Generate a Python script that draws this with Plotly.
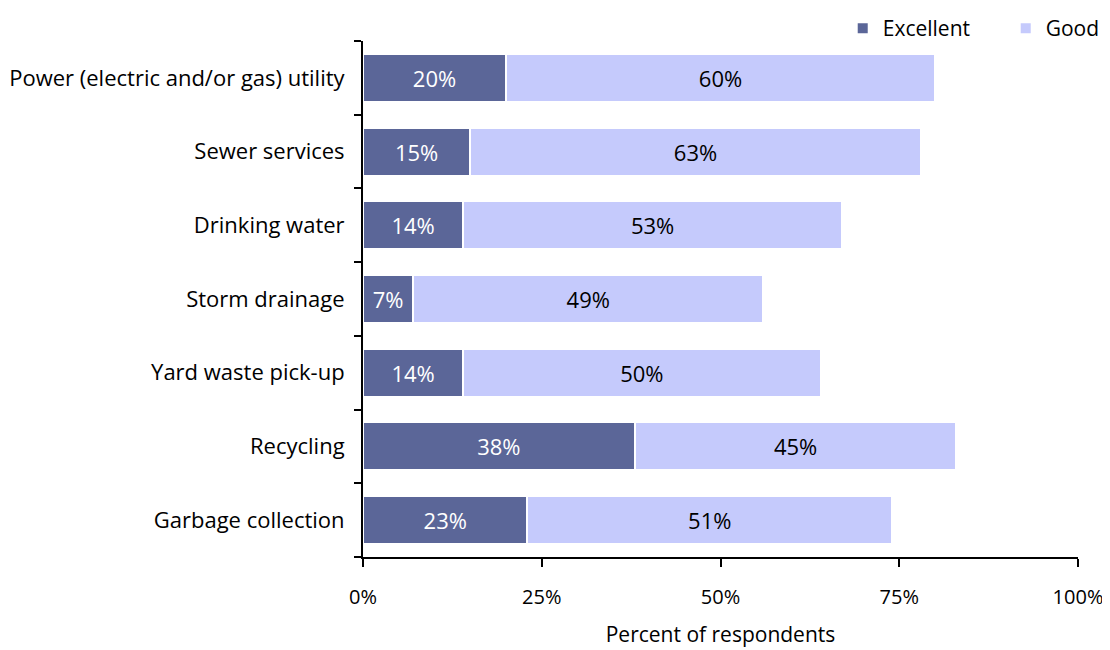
import plotly.graph_objects as go

categories = ["Power (electric and/or gas) utility", "Sewer services", "Drinking water",
              "Storm drainage", "Yard waste pick-up", "Recycling", "Garbage collection"]
excellent = [20, 15, 14, 7, 14, 38, 23]
good = [60, 63, 53, 49, 50, 45, 51]
x_ticks = [0, 25, 50, 75, 100]

FONT = "Open Sans"
fig = go.Figure()
fig.add_trace(go.Bar(
    y=categories, x=excellent, orientation="h", name="Excellent",
    marker=dict(color="#5B6698", line=dict(color="white", width=2)),
    text=[f"{v}%" for v in excellent], textposition="inside", insidetextanchor="middle",
    textfont=dict(color="white", size=22, family=FONT), width=0.65,
    hoverinfo="x+y"))
fig.add_trace(go.Bar(
    y=categories, x=good, orientation="h", name="Good",
    marker=dict(color="#C5CAFC", line=dict(color="white", width=2)),
    text=[f"{v}%" for v in good], textposition="inside", insidetextanchor="middle",
    textfont=dict(color="black", size=22, family=FONT), width=0.65,
    hoverinfo="x+y"))

fig.update_layout(
    barmode="stack",
    width=1110, height=650,
    margin=dict(l=355, r=40, t=33, b=101, autoexpand=False),
    paper_bgcolor="white", plot_bgcolor="white",
    font=dict(family=FONT, size=21, color="black"),
    uniformtext=dict(minsize=10, mode="show"),
    legend=dict(orientation="h", xref="container", yref="container",
                x=0.752, xanchor="left", y=1.0, yanchor="top",
                entrywidth=118, entrywidthmode="pixels", tracegroupgap=0,
                font=dict(size=21, family=FONT), traceorder="normal"),
    showlegend=True,
)
fig.update_xaxes(range=[0, 100], tickvals=x_ticks, ticktext=[f"{v}%" for v in x_ticks],
                 automargin=False,
                 showgrid=False, zeroline=False, showline=True, linecolor="black", linewidth=2,
                 ticks="outside", ticklen=8, tickwidth=2, tickcolor="black",
                 tickfont=dict(size=20), ticklabelstandoff=13,
                 title=dict(text="Percent of respondents", font=dict(size=21), standoff=18))
fig.update_yaxes(categoryorder="array", categoryarray=categories[::-1], automargin=False,
                 showgrid=False, showline=True, linecolor="black", linewidth=2,
                 ticks="outside", tickson="boundaries", ticklen=7, tickwidth=2, tickcolor="black",
                 tickfont=dict(size=22), ticklabelstandoff=12)
fig.write_html("out.html")
